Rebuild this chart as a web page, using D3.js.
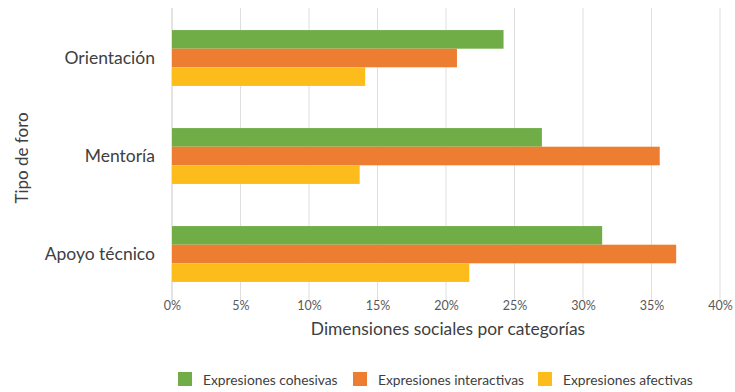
<!DOCTYPE html>
<html><head><meta charset="utf-8">
<script src="https://cdn.jsdelivr.net/npm/d3@7"></script>
<style>body{margin:0;background:#fff}svg{display:block;font-family:Lato,"Open Sans",sans-serif}</style>
</head><body>
<svg id="c" width="735" height="392"></svg>
<script>
const categories = ["Orientación", "Mentoría", "Apoyo técnico"];
const seriesNames = ["Expresiones cohesivas", "Expresiones interactivas", "Expresiones afectivas"];
const cohesivas = [24.2, 27.0, 31.4];
const interactivas = [20.8, 35.6, 36.8];
const afectivas = [14.1, 13.7, 21.7];
const tickValues = [0, 5, 10, 15, 20, 25, 30, 35, 40];
const colors = ["#70ad47", "#ed7d31", "#fbbc1c"];

const series = [cohesivas, interactivas, afectivas];
const svg = d3.select("#c");
const x = d3.scaleLinear().domain([0, 40]).range([172, 720]);
const y0 = d3.scaleBand().domain(categories).range([9, 303]).paddingInner(0.43).paddingOuter(0.215);
const y1 = d3.scaleBand().domain(seriesNames).range([0, y0.bandwidth()]);

// gridlines
svg.append("g").selectAll("line").data(tickValues).join("line")
  .attr("x1", d => x(d)).attr("x2", d => x(d)).attr("y1", 8).attr("y2", 300)
  .attr("stroke", d => d === 0 ? "#c8c8c8" : "#dedede").attr("stroke-width", 1);

// bars
categories.forEach((c, i) => {
  const g = svg.append("g").attr("transform", `translate(0,${y0(c)})`);
  g.selectAll("rect").data(seriesNames).join("rect")
    .attr("x", x(0)).attr("y", s => y1(s))
    .attr("width", (s, j) => x(series[j][i]) - x(0))
    .attr("height", y1.bandwidth())
    .attr("fill", (s, j) => colors[j]);
});

// x axis tick labels
const xAxis = d3.axisBottom(x).tickValues(tickValues).tickSize(0).tickFormat(d => d + "%");
const xg = svg.append("g").attr("transform", "translate(0,300)").call(xAxis);
xg.select(".domain").remove();
xg.selectAll("text").attr("dy", "0.71em").attr("y", 1).attr("font-size", 12.5).attr("fill", "#595959").attr("font-family", "Lato, sans-serif");

// y axis category labels
const yAxis = d3.axisLeft(y0).tickSize(0).tickPadding(17);
const yg = svg.append("g").attr("transform", "translate(172,0)").call(yAxis);
yg.select(".domain").remove();
yg.selectAll("text").attr("font-size", 17.5).attr("fill", "#404040").attr("font-family", "Lato, sans-serif");

// axis titles
svg.append("text").attr("x", 448).attr("y", 335).attr("text-anchor", "middle")
  .attr("font-size", 17.4).attr("fill", "#404040").text("Dimensiones sociales por categorías");
svg.append("text").attr("transform", "translate(28,158) rotate(-90)").attr("text-anchor", "middle")
  .attr("font-size", 17).attr("fill", "#404040").text("Tipo de foro");

// legend
const legendX = [178, 353, 538];
const lg = svg.append("g");
seriesNames.forEach((s, j) => {
  lg.append("rect").attr("x", legendX[j]).attr("y", 372).attr("width", 14).attr("height", 14).attr("fill", colors[j]);
  lg.append("text").attr("x", legendX[j] + 25).attr("y", 384.5).attr("font-size", 13.8).attr("fill", "#404040").text(s);
});
</script>
</body></html>
